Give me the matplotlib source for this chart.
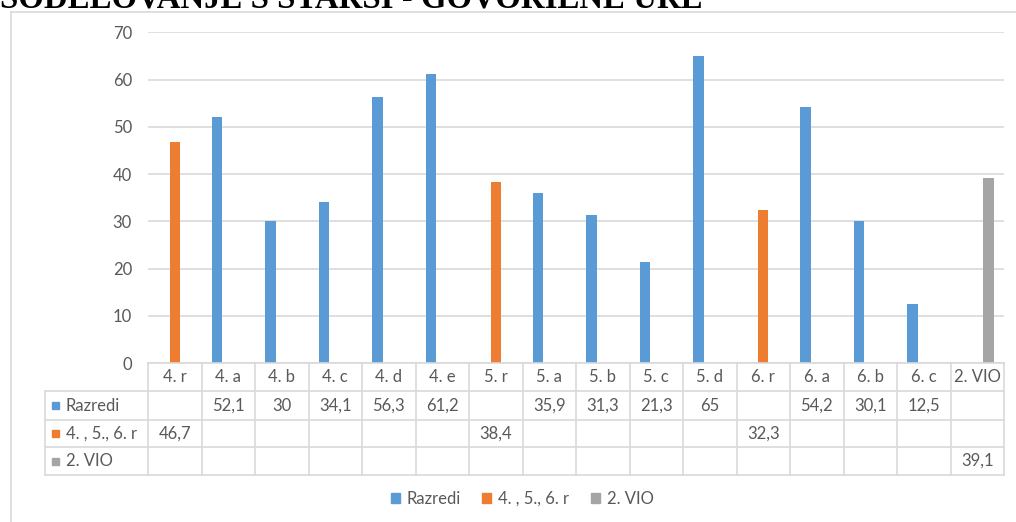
import matplotlib
matplotlib.use('Agg')
import matplotlib.pyplot as plt
from matplotlib.patches import Rectangle
from matplotlib.lines import Line2D
import numpy as np

categories = ["4. r", "4. a", "4. b", "4. c", "4. d", "4. e", "5. r", "5. a",
              "5. b", "5. c", "5. d", "6. r", "6. a", "6. b", "6. c", "2. VIO"]
razredi = [None, 52.1, 30, 34.1, 56.3, 61.2, None, 35.9, 31.3, 21.3, 65,
           None, 54.2, 30.1, 12.5, None]
letniki = [46.7, None, None, None, None, None, 38.4, None, None, None, None,
           32.3, None, None, None, None]
vio = [None] * 15 + [39.1]
series_names = ["Razredi", "4. , 5., 6. r", "2. VIO"]
series_values = [razredi, letniki, vio]
colors = ["#5B9BD5", "#ED7D31", "#A5A5A5"]
yticks = [0, 10, 20, 30, 40, 50, 60, 70]
title = "SODELOVANJE S STARŠI - GOVORILNE URE"

W, H = 1016, 522
fig = plt.figure(figsize=(W / 100, H / 100), dpi=100)
FONT = ["Lato", "DejaVu Sans"]
FS = 12
TXT = "#595959"
GRID = "#d9d9d9"


def fx(px):
    return px / W


def fy(py):
    return 1 - py / H


# outer chart frame
fig.add_artist(Line2D([fx(10.5), fx(10.5)], [fy(11.5), -0.1], transform=fig.transFigure,
                      color=GRID, lw=1.2))
fig.add_artist(Line2D([fx(10.5), 1.1], [fy(11.5), fy(11.5)], transform=fig.transFigure,
                      color=GRID, lw=1.2))

# title (partially cut off at top)
t = fig.text(0, fy(7), title, fontsize=22, fontweight='bold',
             family=["Liberation Serif", "DejaVu Serif"], va='baseline', ha='left')
fig.canvas.draw()
bb = t.get_window_extent()
t.set_fontsize(22 * 703 / bb.width)

# main plot
L, R, TOP, BOT = 148, 1004, 32.3, 363
ax = fig.add_axes([fx(L), fy(BOT), (R - L) / W, (BOT - TOP) / H])
ax.set_xlim(-0.5, len(categories) - 0.5)
ax.set_ylim(0, 70)
ax.set_yticks(yticks)
ax.set_yticklabels([str(v) for v in yticks], family=FONT, fontsize=FS, color=TXT)
ax.set_xticks([])
for s in ax.spines.values():
    s.set_visible(False)
ax.tick_params(axis='y', length=0, pad=11.5)
ax.yaxis.grid(True, color=GRID, lw=1.2)
ax.set_axisbelow(True)

x = np.arange(len(categories))
bw = 0.19
offsets = [-0.21, 0.0, 0.21]
handles = []
for vals, off, col, name in zip(series_values, offsets, colors, series_names):
    xs = [xi + off for xi, v in zip(x, vals) if v is not None]
    hs = [v for v in vals if v is not None]
    ax.bar(xs, hs, width=bw, color=col, zorder=3)
    handles.append(Rectangle((0, 0), 1, 1, color=col, label=name))

# data table
TL = 45
colw = (R - L) / len(categories)
tax = fig.add_axes([fx(TL), fy(475), (R - TL) / W, (475 - 363) / H])
xleft = -0.5 - (L - TL) / colw
tax.set_xlim(xleft, len(categories) - 0.5)
tax.set_ylim(475, 363)
tax.axis('off')
rows = [363, 391, 420, 447, 475]
lk = dict(color=GRID, lw=1.2, clip_on=False)
tax.plot([-0.5, len(categories) - 0.5], [rows[0], rows[0]], **lk)
for r in rows[1:]:
    tax.plot([xleft, len(categories) - 0.5], [r, r], **lk)
for i in range(len(categories) + 1):
    tax.plot([i - 0.5, i - 0.5], [rows[0], rows[-1]], **lk)
tax.plot([xleft, xleft], [rows[1], rows[-1]], **lk)

for i, c in enumerate(categories):
    tax.text(i, (rows[0] + rows[1]) / 2, c, ha='center', va='center',
             family=FONT, fontsize=FS, color=TXT)


def tx(px):
    return xleft + (px - TL) / colw


for k, (vals, col, name) in enumerate(zip(series_values, colors, series_names)):
    yc = (rows[k + 1] + rows[k + 2]) / 2
    tax.add_patch(Rectangle((tx(52), yc - 3.5), 7 / colw, 7, color=col, clip_on=False))
    tax.text(tx(66), yc, name, ha='left', va='center', family=FONT, fontsize=FS, color=TXT)
    for i, v in enumerate(vals):
        if v is not None:
            tax.text(i, yc, f"{v:g}".replace('.', ','), ha='center', va='center',
                     family=FONT, fontsize=FS, color=TXT)

# legend
fig.legend(handles=handles, loc='center', bbox_to_anchor=(fx(522), fy(499)), ncol=3,
           frameon=False, handlelength=0.55, handleheight=0.55, handletextpad=0.4,
           columnspacing=1.3, prop=dict(family=FONT, size=FS), labelcolor=TXT)

fig.savefig("out.png", dpi=100)
